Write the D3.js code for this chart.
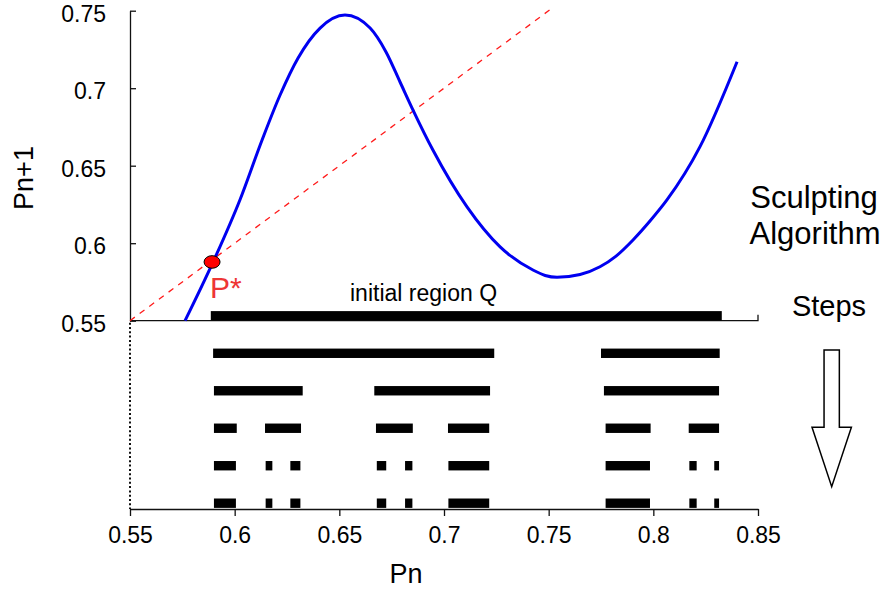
<!DOCTYPE html>
<html>
<head>
<meta charset="utf-8">
<script src="https://cdn.jsdelivr.net/npm/d3@7"></script>
<style>
  body { margin: 0; background: #fff; }
  svg { display: block; }
  text { font-family: "Liberation Sans", Arial, sans-serif; fill: #000; }
</style>
</head>
<body>
<svg id="chart" width="886" height="592"></svg>
<script>
// ---- data ----
const pn  = [0.5763, 0.5897, 0.6025, 0.6131, 0.6217, 0.6303, 0.6408, 0.6527, 0.6647, 0.6723, 0.6790,
             0.6852, 0.6947, 0.7110, 0.7268, 0.7425, 0.7483, 0.7540, 0.7650, 0.7745, 0.7822, 0.7903,
             0.7984, 0.8065, 0.8223, 0.8400];
const pn1 = [0.5500, 0.5879, 0.6279, 0.6666, 0.6956, 0.7195, 0.7388, 0.7472, 0.7388, 0.7234, 0.7040,
             0.6859, 0.6601, 0.6234, 0.5976, 0.5827, 0.5792, 0.5780, 0.5798, 0.5848, 0.5917, 0.6021,
             0.6143, 0.6279, 0.6623, 0.7171];
const diagonal = [0.55, 0.752];
const fixedPoint = [0.5892, 0.5879];
const steps = [0, 1, 2, 3, 4, 5];
const regions = [
  [[0.5886, 0.8327]],
  [[0.5897, 0.7240], [0.7750, 0.8317]],
  [[0.5901, 0.6325], [0.6667, 0.7220], [0.7764, 0.8314]],
  [[0.5901, 0.6010], [0.6145, 0.6317], [0.6675, 0.6851], [0.7019, 0.7216], [0.7772, 0.7987], [0.8169, 0.8314]],
  [[0.5901, 0.6006], [0.6148, 0.6180], [0.6266, 0.6314], [0.6679, 0.6724], [0.6814, 0.6849], [0.7021, 0.7216],
   [0.7772, 0.7984], [0.8172, 0.8207], [0.8291, 0.8314]],
  [[0.5901, 0.6006], [0.6148, 0.6180], [0.6266, 0.6314], [0.6679, 0.6724], [0.6814, 0.6849], [0.7021, 0.7216],
   [0.7772, 0.7984], [0.8172, 0.8207], [0.8291, 0.8314]]
];
const xTicks = [0.55, 0.6, 0.65, 0.7, 0.75, 0.8, 0.85];
const xTickLabels = ["0.55", "0.6", "0.65", "0.7", "0.75", "0.8", "0.85"];
const yTicks = [0.55, 0.6, 0.65, 0.7, 0.75];
const yTickLabels = ["0.55", "0.6", "0.65", "0.7", "0.75"];

// ---- layout ----
const svg = d3.select("#chart");
const x = d3.scaleLinear().domain([0.55, 0.85]).range([130, 758]);
const y = d3.scaleLinear().domain([0.55, 0.75]).range([320.7, 10.7]);
const stepY = d3.scalePoint().domain(steps).range([315.8, 503.2]);
const barH = 9.4;
const bottomY = 509;

// upper panel left axis
const yAxis = d3.axisLeft(y).tickValues(yTicks).tickFormat((d, i) => yTickLabels[i])
  .tickSize(-6).tickSizeOuter(0).tickPadding(24);
const gy = svg.append("g").attr("transform", "translate(130,0)").call(yAxis);
gy.selectAll("text").style("font-size", "23px").attr("dy", "0.46em");
gy.selectAll("line, path").attr("stroke", "#111").attr("stroke-width", 1.3);

// upper panel baseline with right end tick
svg.append("path")
  .attr("d", `M${x(0.55)},${y(0.55)}H${x(0.85)}V${y(0.55) - 6}`)
  .attr("fill", "none").attr("stroke", "#111").attr("stroke-width", 1.3);

// dotted vertical in lower panel
svg.append("line")
  .attr("x1", x(0.55)).attr("x2", x(0.55)).attr("y1", y(0.55) + 2).attr("y2", bottomY)
  .attr("stroke", "#111").attr("stroke-width", 2).attr("stroke-dasharray", "2,2.3");

// bottom axis
const xAxis = d3.axisBottom(x).tickValues(xTicks).tickFormat((d, i) => xTickLabels[i])
  .tickSize(7).tickSizeOuter(0).tickPadding(11);
const gx = svg.append("g").attr("transform", `translate(0,${bottomY})`).call(xAxis);
gx.selectAll("text").style("font-size", "23px");
gx.selectAll("line, path").attr("stroke", "#111").attr("stroke-width", 1.3);

// diagonal
svg.append("line")
  .attr("x1", x(diagonal[0])).attr("y1", y(diagonal[0]))
  .attr("x2", x(diagonal[1])).attr("y2", y(diagonal[1]))
  .attr("stroke", "#ff1a1a").attr("stroke-width", 1.3).attr("stroke-dasharray", "6,6");

// map curve
const pts = pn.map((v, i) => [v, pn1[i]]);
svg.append("path").datum(pts)
  .attr("d", d3.line().x(d => x(d[0])).y(d => y(d[1])).curve(d3.curveMonotoneX))
  .attr("fill", "none").attr("stroke", "#0000f0").attr("stroke-width", 3);

// regions (bars)
regions.forEach((segs, s) => {
  svg.append("g").selectAll("rect").data(segs).join("rect")
    .attr("x", d => x(d[0])).attr("width", d => x(d[1]) - x(d[0]))
    .attr("y", stepY(s) - barH / 2).attr("height", barH)
    .attr("fill", "#000");
});

// fixed point
svg.append("ellipse")
  .attr("cx", x(fixedPoint[0])).attr("cy", y(fixedPoint[1]))
  .attr("rx", 8).attr("ry", 6.3)
  .attr("fill", "#ff0000").attr("stroke", "#000").attr("stroke-width", 1);
svg.append("text").attr("x", 210).attr("y", 297.5)
  .style("font-size", "30px").style("fill", "#ee3535").text("P*");

svg.append("text").attr("x", 350).attr("y", 301)
  .style("font-size", "23px").text("initial region Q");

// axis titles
svg.append("text").attr("transform", "translate(33,178) rotate(-90)")
  .attr("text-anchor", "middle").style("font-size", "27px").text("Pn+1");
svg.append("text").attr("x", 406).attr("y", 583)
  .attr("text-anchor", "middle").style("font-size", "27px").text("Pn");

// side annotations
svg.append("text").attr("x", 814).attr("y", 207.5).attr("text-anchor", "middle")
  .style("font-size", "31px").text("Sculpting");
svg.append("text").attr("x", 815).attr("y", 244).attr("text-anchor", "middle")
  .style("font-size", "31px").text("Algorithm");
svg.append("text").attr("x", 829).attr("y", 315.5).attr("text-anchor", "middle")
  .style("font-size", "29px").text("Steps");

// hollow down arrow
const arrowX = 831.7, shaftW = 15.3, headW = 39.4, arrowTop = 350, arrowNeck = 427.3, arrowTip = 486.7;
svg.append("path")
  .attr("d", `M${arrowX - shaftW / 2},${arrowTop}H${arrowX + shaftW / 2}V${arrowNeck}H${arrowX + headW / 2}L${arrowX},${arrowTip}L${arrowX - headW / 2},${arrowNeck}H${arrowX - shaftW / 2}Z`)
  .attr("fill", "#fff").attr("stroke", "#000").attr("stroke-width", 1.5);
</script>
</body>
</html>
